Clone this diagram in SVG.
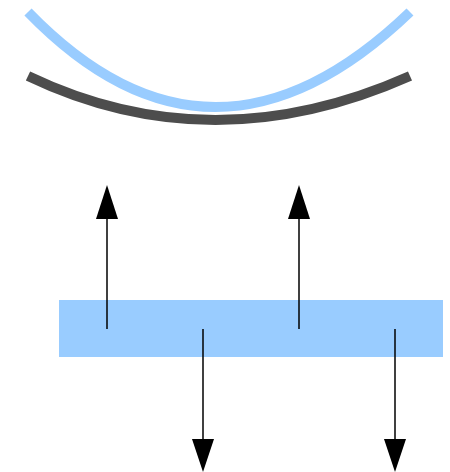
<svg xmlns="http://www.w3.org/2000/svg" width="450" height="472" viewBox="0 0 450 472">
<style>
.curve{fill:none;stroke-width:10}
.arr{stroke:#000;stroke-width:1.5;fill:none}
.head{fill:#000}
</style>
<rect width="450" height="472" fill="#fff"/>
<g id="curve-blue"><path class="curve" stroke="#99ccff" d="M28,12 Q212,202 410,12"/></g>
<g id="curve-dark"><path class="curve" stroke="#4d4d4d" d="M28,76 Q212,164 410,76"/></g>
<g id="plate"><rect x="59" y="300" width="384" height="57" fill="#99ccff"/></g>
<g id="connectors">
<line class="arr" x1="107" y1="329" x2="107" y2="215"/>
<polygon class="head" points="107,185 96,219 118,219"/>
<line class="arr" x1="299" y1="329" x2="299" y2="215"/>
<polygon class="head" points="299,185 288,219 310,219"/>
<line class="arr" x1="203" y1="329" x2="203" y2="443"/>
<polygon class="head" points="203,472 192,439 214,439"/>
<line class="arr" x1="395" y1="329" x2="395" y2="443"/>
<polygon class="head" points="395,472 384,439 406,439"/>
</g>
</svg>
